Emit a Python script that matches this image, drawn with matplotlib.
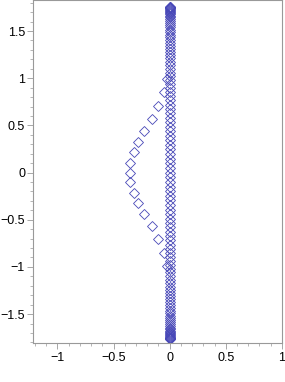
import matplotlib
matplotlib.use('Agg')
import matplotlib.pyplot as plt
from matplotlib.ticker import MultipleLocator, FuncFormatter

# Points on the imaginary axis (x = 0)
axis_y = [1.760, 1.759, 1.757, 1.754, 1.749, 1.743, 1.735, 1.726, 1.716, 1.704,
          1.691, 1.677, 1.661, 1.644, 1.626, 1.607, 1.586, 1.564, 1.540, 1.516,
          1.490, 1.463, 1.435, 1.406, 1.376, 1.345, 1.312, 1.279, 1.245, 1.209,
          1.173, 1.136, 1.097, 1.058, 1.019, 0.978, 0.936, 0.894, 0.851, 0.808,
          0.764, 0.719, 0.674, 0.628, 0.581, 0.535, 0.487, 0.440, 0.392, 0.343,
          0.295, 0.246, 0.197, 0.148, 0.099, 0.049, 0.000,
          -0.049, -0.099, -0.148, -0.197, -0.246, -0.295, -0.343, -0.392, -0.440,
          -0.487, -0.535, -0.581, -0.628, -0.674, -0.719, -0.764, -0.808, -0.851,
          -0.894, -0.936, -0.978, -1.019, -1.058, -1.097, -1.136, -1.173, -1.209,
          -1.245, -1.279, -1.312, -1.345, -1.376, -1.406, -1.435, -1.463, -1.490,
          -1.516, -1.540, -1.564, -1.586, -1.607, -1.626, -1.644, -1.661, -1.677,
          -1.691, -1.704, -1.716, -1.726, -1.735, -1.743, -1.749, -1.754, -1.757,
          -1.759, -1.760]
axis_x = [0.0] * len(axis_y)

# Points on the arc to the left
arc_x = [-0.027, -0.047, -0.100, -0.160, -0.230, -0.280, -0.320, -0.350, -0.355,
         -0.350, -0.320, -0.280, -0.230, -0.160, -0.100, -0.047, -0.027]
arc_y = [0.99, 0.85, 0.705, 0.57, 0.44, 0.325, 0.215, 0.105, 0.0,
         -0.105, -0.215, -0.325, -0.44, -0.57, -0.705, -0.85, -0.99]

plt.rcParams['font.family'] = ['Liberation Sans', 'DejaVu Sans']

fig = plt.figure(figsize=(2.85, 3.82), dpi=100)
ax = fig.add_axes([0.117, 0.101, 0.872, 0.898])

col = '#4848b8'
ax.plot(axis_x, axis_y, linestyle='none', marker='D', markersize=4.6,
        markerfacecolor='none', markeredgecolor=col, markeredgewidth=0.6)
ax.plot(arc_x, arc_y, linestyle='none', marker='D', markersize=4.6,
        markerfacecolor='none', markeredgecolor=col, markeredgewidth=0.6)

ax.set_xlim(-1.215, 1.0)
ax.set_ylim(-1.811, 1.825)

ax.xaxis.set_major_locator(MultipleLocator(0.5))
ax.yaxis.set_major_locator(MultipleLocator(0.5))
ax.xaxis.set_minor_locator(MultipleLocator(0.1))
ax.yaxis.set_minor_locator(MultipleLocator(0.1))
fmt = FuncFormatter(lambda v, p: ('%g' % v).replace('-', '\u2212'))
ax.xaxis.set_major_formatter(fmt)
ax.yaxis.set_major_formatter(fmt)

for s in ax.spines.values():
    s.set_color('#999999')
    s.set_linewidth(0.8)
ax.tick_params(which='major', length=4, width=0.6, color='#999999',
               labelsize=9, labelcolor='black', pad=2)
ax.tick_params(which='minor', length=2, width=0.5, color='#999999')

fig.savefig('out.png', dpi=100)
